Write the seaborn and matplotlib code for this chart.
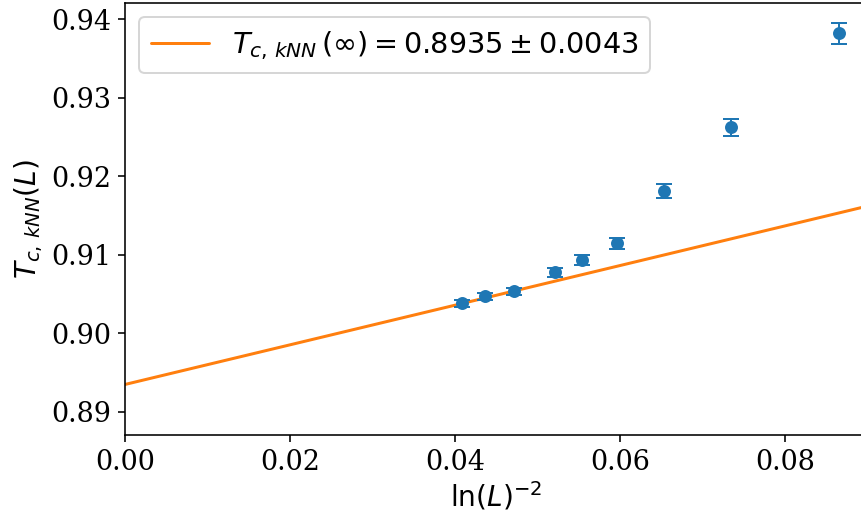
import numpy as np
import pandas as pd
import matplotlib
matplotlib.use("Agg")
import matplotlib.pyplot as plt
import seaborn as sns

# data
x_vals = [0.04085, 0.04364, 0.04715, 0.05212, 0.05540, 0.05964, 0.06533, 0.07345, 0.08655]
t_vals = [0.90382, 0.90475, 0.90534, 0.90776, 0.90929, 0.91145, 0.91807, 0.92621, 0.93817]
t_errs = [0.00045, 0.00045, 0.00045, 0.00060, 0.00064, 0.00074, 0.00090, 0.00110, 0.00130]
fit_intercept = 0.8935
fit_error = 0.0043
fit_slope = 0.2522
fit_x = [0.0, 0.0905]
x_ticks = [0.00, 0.02, 0.04, 0.06, 0.08]
y_ticks = [0.89, 0.90, 0.91, 0.92, 0.93, 0.94]

sns.set_style("ticks")
plt.rcParams["mathtext.fontset"] = "dejavusans"
plt.rcParams["text.color"] = "black"
plt.rcParams["axes.labelcolor"] = "black"
plt.rcParams["xtick.color"] = "black"
plt.rcParams["ytick.color"] = "black"

df = pd.DataFrame({"x": x_vals, "t": t_vals})
fit_df = pd.DataFrame({"x": fit_x, "t": [fit_intercept + fit_slope * v for v in fit_x]})

fig = plt.figure(figsize=(861 / 144, 514 / 144), dpi=144)
ax = fig.add_axes([0.1452, 0.1537, 0.8624, 0.8405])

blue = "#1f77b4"
orange = "#ff7f0e"

ax.errorbar(x_vals, t_vals, yerr=t_errs, fmt="none", ecolor=blue, capsize=4, elinewidth=1.0, capthick=1.0, zorder=2)
sns.scatterplot(data=df, x="x", y="t", ax=ax, color=blue, s=42, edgecolor=blue, linewidth=0, zorder=3, legend=False)
sns.lineplot(data=fit_df, x="x", y="t", ax=ax, color=orange, linewidth=1.5, zorder=1,
             label=r"$T_{c,\,kNN}\,(\infty) = %.4f \pm %.4f$" % (fit_intercept, fit_error))

ax.set_xlim(0.0, 0.0900)
ax.set_ylim(0.88707, 0.94204)
ax.set_xticks(x_ticks)
ax.set_yticks(y_ticks)
ax.set_xticklabels([f"{v:.2f}" for v in x_ticks], fontfamily="DejaVu Serif", fontsize=13.5, color="black")
ax.set_yticklabels([f"{v:.2f}" for v in y_ticks], fontfamily="DejaVu Serif", fontsize=13.5, color="black")
ax.tick_params(axis="both", direction="out", length=3.5, width=0.8, color="black")
for s in ax.spines.values():
    s.set_color("black")
    s.set_linewidth(0.8)

ax.set_xlabel(r"$\ln(L)^{-2}$", fontsize=14, labelpad=2, color="black")
ax.set_ylabel(r"$T_{c,\,kNN}(L)$", fontsize=14, labelpad=3, color="black")

leg = ax.legend(loc="upper left", fontsize=14.4, frameon=True)
leg.get_frame().set_edgecolor("#cccccc")
for t in leg.get_texts():
    t.set_color("black")

fig.savefig("out.png", dpi=144)
